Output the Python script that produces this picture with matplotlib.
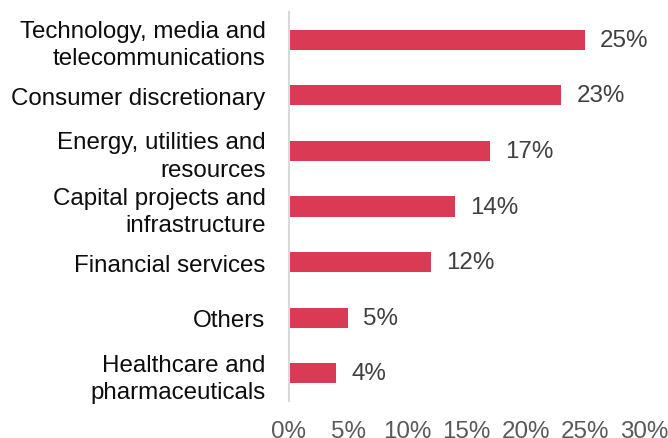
import matplotlib
matplotlib.use("Agg")
import matplotlib.pyplot as plt
from matplotlib.ticker import FuncFormatter

plt.rcParams['font.family'] = ['Liberation Sans', 'DejaVu Sans']

categories = [
    "Technology, media and\ntelecommunications",
    "Consumer discretionary",
    "Energy, utilities and\nresources",
    "Capital projects and\ninfrastructure",
    "Financial services",
    "Others",
    "Healthcare and\npharmaceuticals",
]
values = [25, 23, 17, 14, 12, 5, 4]
xticks = [0, 5, 10, 15, 20, 25, 30]

bar_color = "#DB3A55"
fs = 17.4

fig = plt.figure(figsize=(6.68, 4.39), dpi=100)
ax = fig.add_axes([289 / 668, 37 / 439, 355 / 668, 389 / 439])

ypos = list(range(len(categories)))
ax.barh(ypos, values, height=0.36, color=bar_color)
ax.set_ylim(len(categories) - 0.5, -0.5)
ax.set_xlim(0, 30)

for y, v in zip(ypos, values):
    ax.annotate(f"{v}%", xy=(v, y), xytext=(11, 0), textcoords="offset points",
                ha="left", va="center", fontsize=fs, color="#404040")

ax.set_yticks(ypos)
ax.set_yticklabels(categories, fontsize=fs, color="#0d0d0d", linespacing=1.3)
ax.set_xticks(xticks)
ax.xaxis.set_major_formatter(FuncFormatter(lambda x, p: f"{x:.0f}%"))
ax.tick_params(axis="x", length=0, pad=14, labelsize=fs, labelcolor="#595959")
ax.tick_params(axis="y", length=0, pad=17)

for s in ["top", "right", "bottom"]:
    ax.spines[s].set_visible(False)
ax.spines["left"].set_color("#d9d9d9")
ax.spines["left"].set_linewidth(1.5)

fig.savefig("out.png", dpi=100)
